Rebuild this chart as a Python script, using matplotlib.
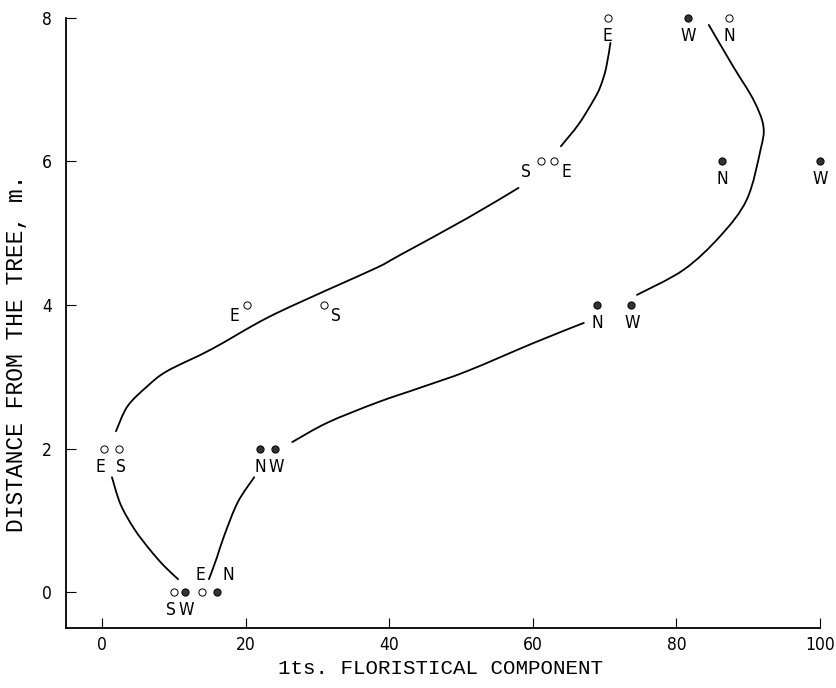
import matplotlib
matplotlib.use("Agg")
import matplotlib.pyplot as plt
from matplotlib.path import Path
from matplotlib.patches import PathPatch

plt.rcParams['font.family'] = ['DejaVu Sans']

# Observed points: (component value, distance, label)
open_x = [10.0, 13.9, 0.3, 2.4, 20.2, 30.9, 61.2, 62.9, 70.4, 87.3]
open_y = [0, 0, 2, 2, 4, 4, 6, 6, 8, 8]
open_lab = ["S", "E", "E", "S", "E", "S", "S", "E", "E", "N"]

fill_x = [11.5, 16.0, 22.0, 24.1, 69.0, 73.6, 86.4, 100.0, 81.6]
fill_y = [0, 0, 2, 2, 4, 4, 6, 6, 8]
fill_lab = ["W", "N", "N", "W", "N", "W", "N", "W", "W"]

# Hand-drawn curves (segments)
c1a_x = [1.39, 2.6, 4.5, 6.6, 8.6, 10.6]
c1a_y = [1.60, 1.22, 0.88, 0.60, 0.37, 0.18]
c1b_x = [1.95, 3.57, 6.35, 9.1, 15.2, 23.0, 31.4, 38.3, 41.6, 50.9, 58.0]
c1b_y = [2.24, 2.59, 2.87, 3.08, 3.38, 3.82, 4.21, 4.52, 4.70, 5.21, 5.63]
c1c_x = [63.9, 66.4, 68.5, 69.4, 70.2, 70.8]
c1c_y = [6.21, 6.52, 6.86, 7.04, 7.30, 7.65]

c2a_x = [14.9, 16.0, 17.0, 18.9, 21.2]
c2a_y = [0.18, 0.48, 0.78, 1.25, 1.60]
c2b_x = [26.5, 31.4, 38.3, 44.4, 50.9, 60.1, 67.1]
c2b_y = [2.09, 2.36, 2.64, 2.85, 3.08, 3.47, 3.75]
c2c_x = [74.5, 81.0, 86.1, 89.8, 91.7, 92.1, 90.7, 87.9, 84.5]
c2c_y = [4.14, 4.49, 4.96, 5.47, 6.16, 6.49, 6.86, 7.32, 7.90]

# label offsets (points) per marker
open_off = [(-2, -13), (-1, 12), (-3, -13), (1, -13), (-9, -8), (9, -8), (-11, -8), (9, -8), (0, -13), (0, -13)]
fill_off = [(1, -13), (8, 12), (0, -13), (1, -13), (0, -13), (1, -13), (0, -13), (0, -13), (0, -13)]


def smooth_path(xs, ys, ax):
    """Catmull-Rom through the read points, drawn as cubic Bezier in display space."""
    pts = ax.transData.transform(list(zip(xs, ys)))
    n = len(pts)
    verts = [tuple(pts[0])]
    codes = [Path.MOVETO]
    for i in range(n - 1):
        p0 = pts[i - 1] if i > 0 else pts[i]
        p1 = pts[i]
        p2 = pts[i + 1]
        p3 = pts[i + 2] if i + 2 < n else pts[i + 1]
        c1 = p1 + (p2 - p0) / 6.0
        c2 = p2 - (p3 - p1) / 6.0
        verts += [tuple(c1), tuple(c2), tuple(p2)]
        codes += [Path.CURVE4] * 3
    return Path(verts, codes)


fig = plt.figure(figsize=(8.36, 6.88), dpi=100)
ax = fig.add_axes([0.079, 0.0872, 0.902, 0.887])
ax.set_xlim(-5, 100)
ax.set_ylim(-0.5, 8)

for xs, ys in [(c1a_x, c1a_y), (c1b_x, c1b_y), (c1c_x, c1c_y),
               (c2a_x, c2a_y), (c2b_x, c2b_y), (c2c_x, c2c_y)]:
    p = smooth_path(xs, ys, ax)
    ax.add_patch(PathPatch(p, transform=None, fill=False, edgecolor='black',
                           lw=1.3, capstyle='round'))

ax.plot(open_x, open_y, 'o', ms=5.2, mfc='white', mec='black', mew=0.7,
        clip_on=False, zorder=3)
ax.plot(fill_x, fill_y, 'o', ms=5.2, mfc='#333333', mec='black', mew=0.7,
        clip_on=False, zorder=3)

lab_font = dict(fontsize=12.5, fontstretch='condensed', family='DejaVu Sans')
for x, y, t, (dx, dy) in zip(open_x, open_y, open_lab, open_off):
    ax.annotate(t, (x, y), xytext=(dx, dy), textcoords='offset points',
                ha='center', va='center', **lab_font)
for x, y, t, (dx, dy) in zip(fill_x, fill_y, fill_lab, fill_off):
    ax.annotate(t, (x, y), xytext=(dx, dy), textcoords='offset points',
                ha='center', va='center', annotation_clip=False, **lab_font)

ax.set_xticks([0, 20, 40, 60, 80, 100])
ax.set_yticks([0, 2, 4, 6, 8])
for s in ['top', 'right']:
    ax.spines[s].set_visible(False)
for s in ['left', 'bottom']:
    ax.spines[s].set_linewidth(1.3)
ax.tick_params(direction='in', length=7, width=0.8, labelsize=12.5)
for lbl in ax.get_xticklabels() + ax.get_yticklabels():
    lbl.set_fontstretch('condensed')
ax.tick_params(axis='x', pad=6)
ax.tick_params(axis='y', pad=10)
ax.set_xlabel('1ts. FLORISTICAL COMPONENT', fontsize=15, family='Liberation Mono')
ax.set_ylabel('DISTANCE FROM THE TREE, m.', fontsize=16.5, family='Liberation Mono')
ax.xaxis.set_label_coords(0.496, -0.050)
ax.yaxis.set_label_coords(-0.051, 0.45)

fig.savefig('out.png', dpi=100)
